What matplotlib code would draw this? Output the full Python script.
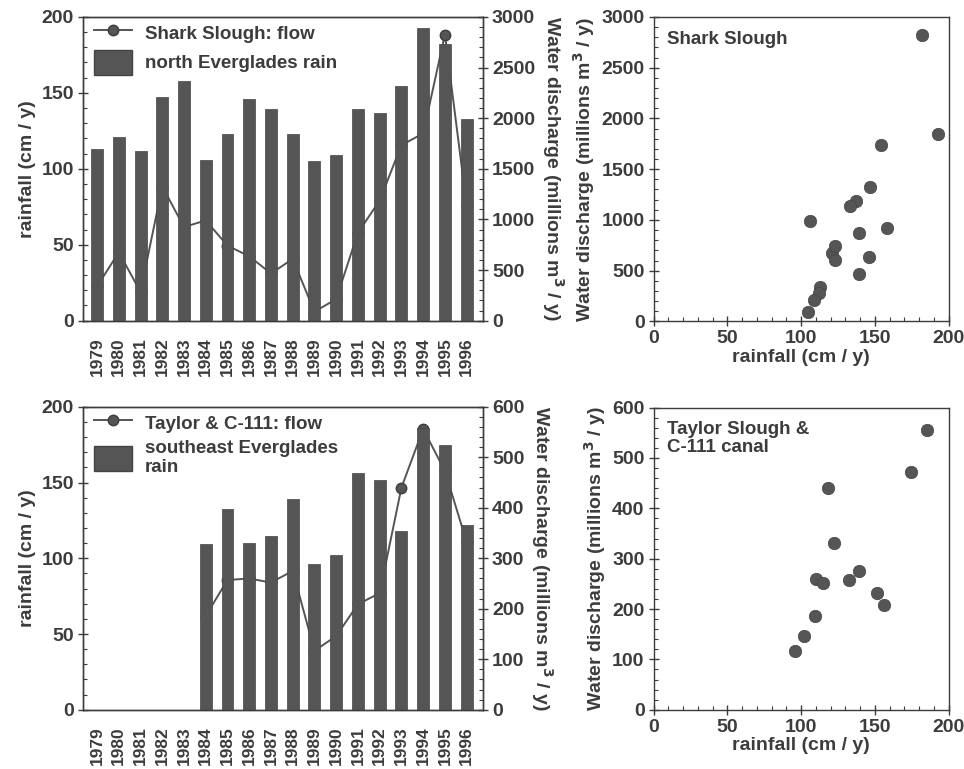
import numpy as np
import matplotlib.pyplot as plt
from matplotlib.patches import Patch
from matplotlib.lines import Line2D
from matplotlib.ticker import MultipleLocator

plt.rcParams['font.family'] = ['Liberation Sans', 'DejaVu Sans']
plt.rcParams['font.weight'] = 'bold'
plt.rcParams['axes.labelweight'] = 'bold'

years = np.arange(1979, 1997)
year_labels = [str(y) for y in years]

# north Everglades rain (cm/y) and Shark Slough flow (millions m3/y)
rain_north = [113, 121, 112, 147, 158, 106, 123, 146, 139.5, 123,
              105, 109, 139.5, 137, 154.5, 192.5, 182, 133]
flow_shark = [338, 675, 285, 1325, 925, 990, 741, 636, 466, 610,
              89, 213, 869, 1187, 1734, 1849, 2826, 1134]

# southeast Everglades rain and Taylor Slough + C-111 flow (no data 1979-1983)
nan = np.nan
rain_se = [nan, nan, nan, nan, nan, 109.5, 132.7, 110, 114.7, 139,
           96, 102, 156, 151.4, 118, 185.7, 174.7, 122]
flow_taylor = [nan, nan, nan, nan, nan, 186, 257, 260, 252, 275,
               117, 146, 209, 231, 440, 556, 473, 332]

dark = '#555555'
txt = '#3c3c3c'
fs = 14

fig = plt.figure(figsize=(9.64, 7.69), dpi=100)


def style_ticks(ax):
    ax.tick_params(axis='both', which='major', direction='inout', length=7,
                   width=1, colors=txt, labelsize=fs, pad=3)
    ax.tick_params(axis='both', which='minor', direction='in', length=3,
                   width=0.8, colors=txt)
    for s in ax.spines.values():
        s.set_color(txt)
        s.set_linewidth(1)


def bar_panel(rect, rain, flow, fmax, fmajor, fminor, flow_lab, rain_lab):
    ax = fig.add_axes(rect)
    ax2 = ax.twinx()
    x = np.arange(len(years))
    ax2.plot(x, flow, color=dark, lw=1.4, marker='o', ms=7.5,
             markerfacecolor=dark, markeredgecolor=txt)
    ax.bar(x, rain, width=0.55, color=dark, edgecolor='#444444', lw=0.5)
    ax.set_zorder(ax2.get_zorder() + 1)
    ax.patch.set_visible(False)
    ax.set_xlim(-0.65, 17.75)
    ax.set_ylim(0, 200)
    ax2.set_ylim(0, fmax)
    ax.yaxis.set_major_locator(MultipleLocator(50))
    ax.yaxis.set_minor_locator(MultipleLocator(10))
    ax2.yaxis.set_major_locator(MultipleLocator(fmajor))
    ax2.yaxis.set_minor_locator(MultipleLocator(fminor))
    ax.set_xticks(x)
    ax.set_xticklabels(year_labels, rotation=90, color=txt)
    style_ticks(ax)
    style_ticks(ax2)
    ax.tick_params(axis='x', which='both', length=0, labelsize=12.5, pad=12)
    ax.set_ylabel('rainfall (cm / y)', fontsize=fs, color=txt, labelpad=4)
    ax2.set_ylabel('Water discharge (millions m$^3$ / y)', fontsize=fs,
                   color=txt, rotation=270, labelpad=22)
    handles = [Line2D([], [], color=dark, lw=1.4, marker='o', ms=7.5,
                      markerfacecolor=dark, markeredgecolor=txt),
               Patch(facecolor=dark, edgecolor='#444444')]
    leg = ax.legend(handles, [flow_lab, rain_lab], loc='upper left',
                    bbox_to_anchor=(0.0, 1.025), frameon=False, fontsize=13.5,
                    handlelength=2.0, handleheight=1.7, borderaxespad=0.2,
                    labelspacing=0.2, handletextpad=0.7)
    for t in leg.get_texts():
        t.set_color(txt)
    return ax


def scatter_panel(rect, rain, flow, fmax, fmajor, fminor, label):
    ax = fig.add_axes(rect)
    ax.scatter(rain, flow, s=80, color=dark, edgecolor='#444444', lw=0.5)
    ax.set_xlim(0, 200)
    ax.set_ylim(0, fmax)
    ax.xaxis.set_major_locator(MultipleLocator(50))
    ax.xaxis.set_minor_locator(MultipleLocator(10))
    ax.yaxis.set_major_locator(MultipleLocator(fmajor))
    ax.yaxis.set_minor_locator(MultipleLocator(fminor))
    style_ticks(ax)
    ax.set_xlabel('rainfall (cm / y)', fontsize=fs, color=txt, labelpad=1)
    ax.set_ylabel('Water discharge (millions m$^3$ / y)', fontsize=fs,
                  color=txt, labelpad=3)
    ax.text(0.045, 0.955, label, transform=ax.transAxes, va='top',
            ha='left', fontsize=13.5, color=txt, fontweight='bold',
            linespacing=1.05)
    return ax


bar_panel([0.086, 0.583, 0.415, 0.395], rain_north, flow_shark, 3000, 500, 100,
          'Shark Slough: flow', 'north Everglades rain')
scatter_panel([0.678, 0.582, 0.306, 0.396], rain_north, flow_shark, 3000, 500, 100,
              'Shark Slough')

bar_panel([0.086, 0.077, 0.415, 0.394], rain_se, flow_taylor, 600, 100, 20,
          'Taylor & C-111: flow', 'southeast Everglades\nrain')
scatter_panel([0.678, 0.077, 0.306, 0.393], rain_se, flow_taylor, 600, 100, 20,
              'Taylor Slough &\nC-111 canal')

fig.savefig('out.png', dpi=100)
